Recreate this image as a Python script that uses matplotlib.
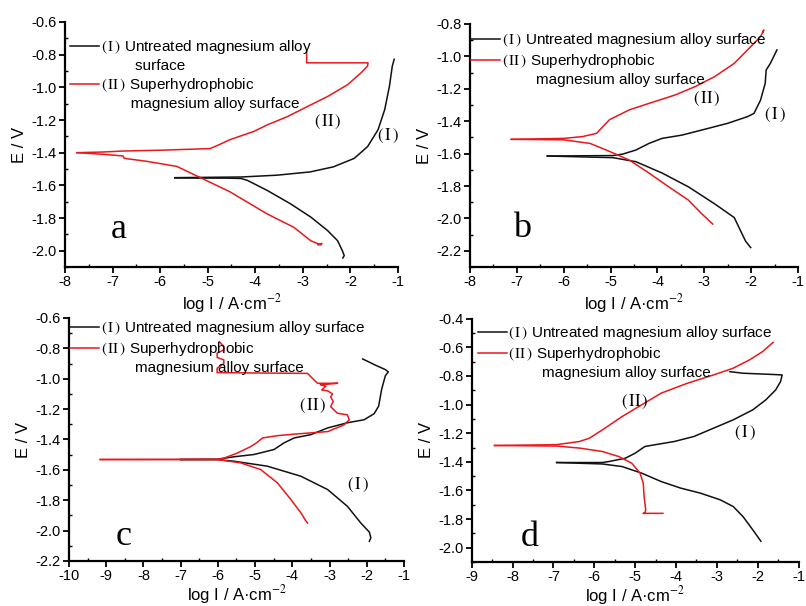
import matplotlib
matplotlib.use("Agg")
import matplotlib.pyplot as plt
from matplotlib.lines import Line2D
from matplotlib.ticker import MultipleLocator, FormatStrFormatter

plt.rcParams['axes.unicode_minus'] = False
plt.rcParams['font.family'] = ['Liberation Sans', 'DejaVu Sans']
plt.rcParams['mathtext.fontset'] = 'stix'

# ---- panel a ----
a_I_cat_x = [-5.69, -4.6, -4.3, -4.17, -3.75, -3.26, -2.83, -2.48, -2.27, -2.17, -2.13, -2.16]
a_I_cat_y = [-1.555, -1.556, -1.558, -1.569, -1.631, -1.713, -1.795, -1.877, -1.939, -2.0, -2.03, -2.045]
a_I_an_x = [-5.69, -4.3, -3.55, -2.85, -2.36, -1.92, -1.64, -1.42, -1.28, -1.18, -1.12, -1.08]
a_I_an_y = [-1.553, -1.549, -1.538, -1.518, -1.487, -1.435, -1.363, -1.26, -1.137, -0.993, -0.87, -0.828]
a_II_cat_x = [-7.75, -7.2, -6.78, -6.75, -6.28, -5.65, -5.16, -4.53, -3.75, -3.19, -2.83, -2.62, -2.60, -2.68]
a_II_cat_y = [-1.40, -1.41, -1.42, -1.435, -1.453, -1.484, -1.552, -1.64, -1.775, -1.857, -1.94, -1.965, -1.955, -1.965]
a_II_an_x = [-7.75, -7.2, -6.78, -6.0, -4.95, -4.75, -4.53, -4.03, -3.75, -3.33, -2.9, -2.48, -2.06, -1.78, -1.64, -1.63, -2.92, -2.92]
a_II_an_y = [-1.40, -1.396, -1.39, -1.385, -1.375, -1.35, -1.32, -1.27, -1.23, -1.18, -1.117, -1.056, -0.984, -0.912, -0.87, -0.85, -0.85, -0.78]

# ---- panel b ----
b_I_cat_x = [-6.35, -4.95, -4.46, -3.90, -3.34, -2.78, -2.36, -2.22, -2.12, -2.01]
b_I_cat_y = [-1.615, -1.625, -1.65, -1.72, -1.805, -1.91, -1.995, -2.08, -2.14, -2.18]
b_I_an_x = [-6.35, -4.95, -4.74, -4.46, -4.18, -3.90, -3.48, -3.06, -2.50, -2.08, -1.94, -1.80, -1.70, -1.68, -1.59, -1.45]
b_I_an_y = [-1.615, -1.612, -1.603, -1.578, -1.537, -1.506, -1.486, -1.455, -1.413, -1.372, -1.352, -1.27, -1.166, -1.084, -1.043, -0.96]
b_II_cat_x = [-7.12, -6.0, -5.44, -5.09, -4.60, -4.18, -3.76, -3.34, -3.06, -2.82]
b_II_cat_y = [-1.512, -1.515, -1.537, -1.578, -1.64, -1.72, -1.805, -1.887, -1.97, -2.035]
b_II_an_x = [-7.12, -6.0, -5.6, -5.30, -5.02, -4.60, -4.18, -3.62, -3.20, -2.78, -2.36, -2.01, -1.80, -1.73, -1.75]
b_II_an_y = [-1.512, -1.506, -1.495, -1.475, -1.39, -1.33, -1.29, -1.238, -1.187, -1.125, -1.043, -0.94, -0.878, -0.837, -0.85]

# ---- panel c ----
c_I_cat_x = [-7.0, -6.0, -5.57, -4.67, -3.77, -3.05, -2.52, -2.16, -1.93, -1.89, -1.93]
c_I_cat_y = [-1.532, -1.533, -1.543, -1.576, -1.642, -1.73, -1.84, -1.95, -2.01, -2.047, -2.07]
c_I_an_x = [-7.0, -6.0, -5.57, -5.03, -4.49, -4.22, -3.95, -3.50, -3.05, -2.52, -2.07, -1.8, -1.68, -1.6, -1.5, -1.42, -1.5, -1.80, -1.98, -2.11]
c_I_an_y = [-1.532, -1.53, -1.514, -1.499, -1.466, -1.422, -1.39, -1.368, -1.324, -1.29, -1.27, -1.23, -1.18, -1.07, -0.98, -0.955, -0.94, -0.907, -0.885, -0.87]
c_II_cat_x = [-9.16, -6.0, -5.39, -4.85, -4.40, -4.04, -3.77, -3.64, -3.59]
c_II_cat_y = [-1.532, -1.533, -1.554, -1.598, -1.686, -1.795, -1.883, -1.935, -1.95]
c_II_an_x = [-9.16, -6.0, -5.84, -5.48, -5.12, -4.95, -4.8, -4.4, -3.95, -3.05, -2.61, -2.47, -2.52, -2.79, -2.97, -2.90,
             -2.97, -2.92, -3.05, -3.21, -3.10, -3.25, -2.78, -3.32, -3.45, -3.59, -6.02, -6.02, -5.84, -5.84, -6.02,
             -6.02, -5.84, -5.84, -5.96]
c_II_an_y = [-1.532, -1.53, -1.523, -1.49, -1.447, -1.42, -1.39, -1.375, -1.365, -1.348, -1.304, -1.271, -1.238, -1.227,
             -1.184, -1.15, -1.12, -1.10, -1.08, -1.074, -1.05, -1.04, -1.03, -1.03, -1.0, -0.965, -0.96, -0.931, -0.90,
             -0.876, -0.86, -0.832, -0.81, -0.789, -0.756]

# ---- panel d ----
d_I_cat_x = [-6.92, -5.80, -5.32, -4.84, -4.36, -3.88, -3.40, -2.92, -2.60, -2.36, -2.12, -1.92]
d_I_cat_y = [-1.405, -1.415, -1.433, -1.479, -1.538, -1.584, -1.619, -1.665, -1.712, -1.782, -1.875, -1.955]
d_I_an_x = [-6.92, -5.80, -5.64, -5.24, -5.0, -4.76, -4.52, -4.04, -3.56, -3.08, -2.60, -2.12, -1.80, -1.56, -1.44, -1.40, -1.60, -2.36, -2.68]
d_I_an_y = [-1.405, -1.405, -1.398, -1.375, -1.34, -1.293, -1.281, -1.258, -1.223, -1.165, -1.107, -1.037, -0.967, -0.898, -0.84, -0.793, -0.79, -0.781, -0.77]
d_II_cat_x = [-8.44, -6.92, -6.36, -5.80, -5.40, -5.08, -4.88, -4.80, -4.78, -4.74, -4.76, -4.80, -4.32]
d_II_cat_y = [-1.286, -1.29, -1.304, -1.328, -1.363, -1.41, -1.479, -1.549, -1.642, -1.735, -1.76, -1.76, -1.76]
d_II_an_x = [-8.44, -6.92, -6.36, -6.12, -5.80, -5.32, -4.84, -4.36, -3.72, -3.08, -2.60, -2.20, -1.88, -1.62]
d_II_an_y = [-1.286, -1.28, -1.258, -1.235, -1.177, -1.084, -1.002, -0.92, -0.851, -0.793, -0.746, -0.688, -0.63, -0.565]

panels = [
    dict(name="a", rect=[0.0806, 0.5594, 0.4132, 0.4043], xlim=(-8, -1), ylim=(-2.1, -0.6),
         I=(a_I_cat_x, a_I_cat_y, a_I_an_x, a_I_an_y), II=(a_II_cat_x, a_II_cat_y, a_II_an_x, a_II_an_y),
         lab_I=(-1.21, -1.30), lab_II=(-2.47, -1.21), letter=(0.16, 0.155), leg=(0.015, 0.935), short=True, pad=2),
    dict(name="b", rect=[0.5831, 0.5594, 0.4070, 0.4010], xlim=(-8, -1), ylim=(-2.3, -0.8),
         I=(b_I_cat_x, b_I_cat_y, b_I_an_x, b_I_an_y), II=(b_II_cat_x, b_II_cat_y, b_II_an_x, b_II_an_y),
         lab_I=(-1.49, -1.36), lab_II=(-2.94, -1.26), letter=(0.16, 0.16), leg=(0.003, 0.97), short=False, pad=2),
    dict(name="c", rect=[0.0856, 0.0743, 0.4156, 0.4010], xlim=(-10, -1), ylim=(-2.2, -0.6),
         I=(c_I_cat_x, c_I_cat_y, c_I_an_x, c_I_an_y), II=(c_II_cat_x, c_II_cat_y, c_II_an_x, c_II_an_y),
         lab_I=(-2.24, -1.70), lab_II=(-3.45, -1.18), letter=(0.164, 0.10), leg=(0.003, 0.995), short=False, pad=0),
    dict(name="d", rect=[0.5852, 0.0726, 0.4055, 0.4015], xlim=(-9, -1), ylim=(-2.1, -0.4),
         I=(d_I_cat_x, d_I_cat_y, d_I_an_x, d_I_an_y), II=(d_II_cat_x, d_II_cat_y, d_II_an_x, d_II_an_y),
         lab_I=(-2.32, -1.20), lab_II=(-5.01, -0.98), letter=(0.178, 0.10), leg=(0.019, 0.978), short=False, pad=0),
]

RED = '#e8181c'
BLK = '#111111'
serif = ['Liberation Serif', 'DejaVu Serif']
N1 = r"$(\,\mathrm{I}\,)$"
N2 = r"$(\,\mathrm{II}\,)$"

fig = plt.figure(figsize=(8.06, 6.06), dpi=100)

for p in panels:
    ax = fig.add_axes(p["rect"])
    cx, cy, axx, ay = p["I"]
    lI, = ax.plot(cx, cy, color=BLK, lw=1.1)
    ax.plot(axx, ay, color=BLK, lw=1.1)
    cx, cy, axx, ay = p["II"]
    lII, = ax.plot(cx, cy, color=RED, lw=1.1)
    ax.plot(axx, ay, color=RED, lw=1.1)

    ax.set_xlim(*p["xlim"])
    ax.set_ylim(*p["ylim"])
    ax.xaxis.set_major_locator(MultipleLocator(1))
    ax.xaxis.set_minor_locator(MultipleLocator(0.5))
    ax.yaxis.set_major_locator(MultipleLocator(0.2))
    ax.yaxis.set_minor_locator(MultipleLocator(0.1))
    ax.yaxis.set_major_formatter(FormatStrFormatter('%.1f'))
    ax.xaxis.set_major_formatter(FormatStrFormatter('%d'))
    ax.tick_params(which='major', direction='out', length=4, width=1.3, labelsize=10.5, pad=2)
    ax.tick_params(which='minor', direction='in', length=2.5, width=1.0)
    for s in ["top", "right"]:
        ax.spines[s].set_visible(False)
    for s in ["left", "bottom"]:
        ax.spines[s].set_linewidth(1.6)
    ax.set_ylabel("E / V", fontsize=12, labelpad=3)
    ax.set_xlabel("log I / A·cm$^{-2}$", fontsize=12, labelpad=p["pad"])

    ax.text(*p["lab_I"], N1, fontsize=12, ha='center', va='center')
    ax.text(*p["lab_II"], N2, fontsize=12, ha='center', va='center')
    ax.text(*p["letter"], p["name"], transform=ax.transAxes, fontsize=26, family=serif,
            ha='center', va='center')

    blank = Line2D([], [], color='none')
    if p["short"]:
        handles = [lI, blank, lII, blank]
        labels = [N1 + " Untreated magnesium alloy", "        surface",
                  N2 + " Superhydrophobic", "       magnesium alloy surface"]
    else:
        handles = [lI, lII, blank]
        labels = [N1 + " Untreated magnesium alloy surface", N2 + " Superhydrophobic",
                  "        magnesium alloy surface"]
    ax.legend(handles, labels, loc='upper left', bbox_to_anchor=p["leg"], frameon=False,
              fontsize=11, handlelength=1.9, handletextpad=0.1, labelspacing=0.2,
              borderpad=0, borderaxespad=0)

fig.savefig("out.png", dpi=100)
